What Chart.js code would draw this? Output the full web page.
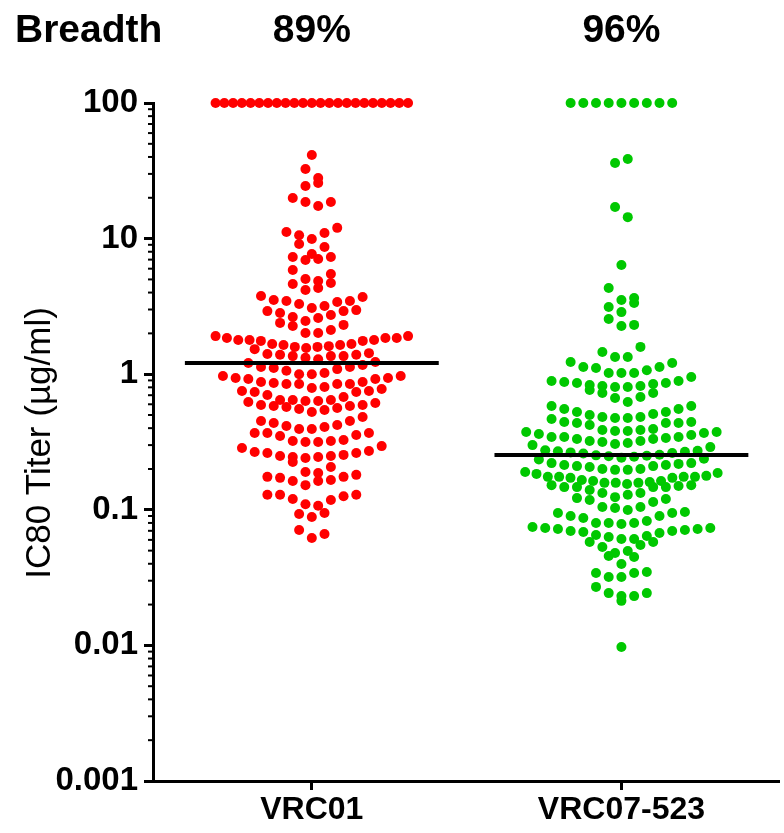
<!DOCTYPE html>
<html>
<head>
<meta charset="utf-8">
<script src="https://cdn.jsdelivr.net/npm/chart.js@4.4.1/dist/chart.umd.min.js"></script>
<style>
  html, body { margin: 0; padding: 0; background: #fff; }
  canvas { display: block; }
</style>
</head>
<body>
<canvas id="swarm" width="784" height="833"></canvas>
<script>
// Categories, breadth labels and axis ticks
const categories = ['VRC01', 'VRC07-523'];
const breadth = ['89%', '96%'];
const yTickValues = [0.001, 0.01, 0.1, 1, 10, 100];
const yTickLabels = ['0.001', '0.01', '0.1', '1', '10', '100'];
const yTitle = 'IC80 Titer (\u00b5g/ml)';

// IC80 titers (100 = not neutralized)
const vrc01Titers = [
  100, 100, 100, 100, 100, 100, 100, 100, 100, 100, 100, 100,
  100, 100, 100, 100, 100, 100, 100, 100, 100, 100, 100,
  41.4, 32.6, 28.0, 25.7, 24.4, 19.9, 18.6, 17.4, 18.6,
  12.0, 10.6, 11.0, 11.2, 9.93, 9.12, 8.67, 7.70, 7.32, 6.95, 7.07, 7.32,
  5.48, 5.87, 4.87, 4.71, 5.04, 4.63, 4.32, 4.18, 3.71, 3.77,
  3.53, 3.47, 3.29, 3.08, 2.92, 2.92, 2.97, 3.18, 3.41, 3.47,
  2.73, 2.60, 2.39, 2.27, 2.31, 2.47, 2.64, 2.83,
  2.01, 1.91, 1.85, 1.85, 1.76, 1.79, 1.67, 1.76, 1.67, 1.79, 1.79, 1.85, 1.91, 2.01, 2.12,
  1.61, 1.59, 1.53, 1.43, 1.39, 1.36, 1.36, 1.36, 1.39, 1.41, 1.56, 1.59, 1.64, 1.64,
  1.29, 1.23, 1.17, 1.13, 1.09, 1.06, 1.11, 1.13, 1.21, 1.32,
  1.00, 0.970, 0.937, 0.922, 0.876, 0.861, 0.847, 0.847, 0.847, 0.847, 0.876, 0.922, 0.937, 0.970, 1.00, 1.02,
  0.791, 0.752, 0.739, 0.703, 0.645, 0.645, 0.679, 0.739, 0.752, 0.778, 0.805,
  0.634, 0.624, 0.593, 0.583, 0.573, 0.554, 0.526, 0.545, 0.563, 0.583, 0.593, 0.613, 0.634, 0.645,
  0.452, 0.437, 0.415, 0.408, 0.422, 0.452, 0.484,
  0.394, 0.368, 0.356, 0.327, 0.322, 0.316, 0.316, 0.322, 0.350, 0.368, 0.368, 0.394,
  0.295, 0.271, 0.262, 0.254, 0.249, 0.225, 0.245, 0.241, 0.245, 0.249, 0.262, 0.267, 0.286,
  0.190, 0.207,
  0.181, 0.175, 0.166, 0.163, 0.152, 0.163, 0.172, 0.175, 0.187,
  0.129, 0.129, 0.120, 0.107, 0.110, 0.118, 0.126, 0.129,
  0.0931, 0.0885, 0.0947,
  0.0710, 0.0619, 0.0663
];

const vrc07Titers = [
  100, 100, 100, 100, 100, 100, 100, 100, 100,
  38.6, 36.1, 17.1, 14.4, 6.39, 4.32,
  3.53, 3.65, 3.13, 2.87, 3.35, 2.55, 2.27, 2.31,
  1.59, 1.46, 1.34, 1.34, 1.23, 1.21,
  1.13, 1.11, 1.02, 1.02, 0.954, 1.02, 1.07, 1.13,
  0.891, 0.876, 0.861, 0.832, 0.818, 0.727, 0.668, 0.805, 0.727, 0.765, 0.805, 0.818, 0.847, 0.861, 0.891, 0.679,
  0.583, 0.583, 0.624,
  0.554, 0.526, 0.509, 0.484, 0.475, 0.467, 0.475, 0.484, 0.500, 0.526, 0.554,
  0.444, 0.437, 0.422, 0.388, 0.381, 0.375, 0.368, 0.362, 0.375, 0.381, 0.388, 0.394, 0.437, 0.437, 0.444,
  0.344, 0.344, 0.333, 0.322, 0.316, 0.306, 0.290, 0.300, 0.311, 0.322, 0.333, 0.338, 0.344, 0.356,
  0.275, 0.270, 0.265, 0.260, 0.255, 0.250, 0.246, 0.242, 0.238, 0.235, 0.262, 0.252, 0.272, 0.268, 0.248,
  0.221, 0.218, 0.210, 0.210, 0.200, 0.197, 0.190, 0.184, 0.187, 0.197, 0.200, 0.207, 0.214, 0.214, 0.221,
  0.178, 0.175, 0.175, 0.172, 0.163, 0.158, 0.158, 0.155, 0.152, 0.147, 0.147,
  0.147, 0.147, 0.150, 0.152, 0.158, 0.160, 0.163, 0.166, 0.172, 0.175, 0.175,
  0.140, 0.133, 0.124, 0.120, 0.114, 0.118, 0.122, 0.129, 0.133,
  0.105, 0.0997, 0.0947, 0.0900, 0.0900, 0.0947, 0.0963, 0.103, 0.105,
  0.0870, 0.0799, 0.0799, 0.0747, 0.0710, 0.0698, 0.0675, 0.0641, 0.0609, 0.0734, 0.0722,
  0.0722, 0.0734, 0.0786, 0.0799, 0.0827, 0.0698, 0.0686, 0.0652, 0.0630, 0.0609,
  0.0579, 0.0579, 0.0550, 0.0532, 0.0480, 0.0497, 0.0456, 0.0449, 0.0398,
  0.0319, 0.0342, 0.0342, 0.0319, 0.0348, 0.0270,
  0.0243, 0.0231, 0.0231, 0.0243, 0.0213,
  0.00973
];

const FONT = '"Liberation Sans", Arial, Helvetica, sans-serif';
const DOT_GAP = 12.8;     // px between neighbours in a row
const ROW_H = 12.7;       // px height of a swarm row
const MAX_HALF = 97;      // px, widest a row may spread
const MEDIAN_HALF = 0.41; // half width of median bar, in category units

function median(arr) {
  const s = arr.slice().sort((a, b) => a - b);
  const m = Math.floor(s.length / 2);
  return s.length % 2 ? s[m] : (s[m - 1] + s[m]) / 2;
}

// Prism-like swarm: group values into rows by pixel height, spread each row centre-out
function swarm(values, yScale, unitPx, center) {
  const pts = values.map(v => ({ v, py: yScale.getPixelForValue(v) }))
    .sort((a, b) => a.py - b.py);
  const rows = [];
  let row = null;
  pts.forEach(p => {
    if (!row || p.py - row.top > ROW_H) {
      row = { top: p.py, items: [] };
      rows.push(row);
    }
    row.items.push(p);
  });
  const out = [];
  rows.forEach((r, ri) => {
    const items = r.items.slice().sort((a, b) => b.py - a.py);
    const n = items.length;
    const gap = n > 1 ? Math.min(DOT_GAP, 2 * MAX_HALF / (n - 1)) : 0;
    const slots = [];
    for (let k = 0; k < n; k++) slots.push((k - (n - 1) / 2) * gap);
    const side = ri % 2 ? 1 : -1;
    slots.sort((a, b) => Math.abs(a) - Math.abs(b) || side * (a - b));
    items.forEach((p, i) => out.push({ x: center + slots[i] / unitPx, y: p.v }));
  });
  return out;
}

const decor = {
  id: 'decor',
  afterDraw(chart) {
    const { ctx, scales: { x, y } } = chart;
    ctx.save();
    // minor log ticks
    ctx.strokeStyle = '#000';
    ctx.lineWidth = 2;
    for (let e = -3; e < 2; e++) {
      for (let m = 2; m <= 9; m++) {
        const py = y.getPixelForValue(m * Math.pow(10, e));
        ctx.beginPath();
        ctx.moveTo(y.right - 5, py);
        ctx.lineTo(y.right, py);
        ctx.stroke();
      }
    }
    // header
    ctx.fillStyle = '#000';
    ctx.textBaseline = 'middle';
    ctx.font = 'bold 39px ' + FONT;
    ctx.textAlign = 'left';
    ctx.fillText('Breadth', 15, 31);
    ctx.textAlign = 'center';
    breadth.forEach((b, i) => ctx.fillText(b, x.getPixelForValue(i + 1), 31));
    // y title
    ctx.translate(40, 443);
    ctx.rotate(-Math.PI / 2);
    ctx.font = '35px ' + FONT;
    ctx.fillText(yTitle, 0, 0);
    ctx.restore();
  }
};

const tickFont = { family: FONT, size: 33, weight: 'bold' };

const chart = new Chart(document.getElementById('swarm'), {
  type: 'scatter',
  data: {
    datasets: [
      { label: 'median VRC01', type: 'line', data: [], borderColor: '#000', borderWidth: 4,
        pointRadius: 0, showLine: true, order: 1 },
      { label: 'median VRC07-523', type: 'line', data: [], borderColor: '#000', borderWidth: 4,
        pointRadius: 0, showLine: true, order: 1 },
      { label: categories[0], data: [], backgroundColor: '#ff0000', borderWidth: 0,
        pointRadius: 5, clip: false, order: 2 },
      { label: categories[1], data: [], backgroundColor: '#00c800', borderWidth: 0,
        pointRadius: 5, clip: false, order: 2 }
    ]
  },
  options: {
    responsive: false,
    animation: false,
    layout: { padding: { top: 103, right: 0, bottom: 0, left: 0 } },
    plugins: { legend: { display: false }, tooltip: { enabled: false } },
    scales: {
      x: {
        type: 'linear',
        min: 0.487,
        max: 2.509,
        afterFit: s => { s.height = 52; },
        afterBuildTicks: s => { s.ticks = categories.map((c, i) => ({ value: i + 1 })); },
        ticks: {
          callback: (v, i) => categories[i],
          color: '#000', font: { family: FONT, size: 32, weight: 'bold' },
          padding: 1, autoSkip: false, maxRotation: 0
        },
        grid: { drawOnChartArea: false, drawTicks: true, tickLength: 9, tickWidth: 3, tickColor: '#000' },
        border: { display: true, color: '#000', width: 3 }
      },
      y: {
        type: 'logarithmic',
        min: 0.001,
        max: 100,
        afterFit: s => { s.width = 153; },
        afterBuildTicks: s => { s.ticks = yTickValues.map(v => ({ value: v })); },
        ticks: {
          callback: (v, i) => yTickLabels[i],
          color: '#000', font: tickFont, padding: 6
        },
        grid: { drawOnChartArea: false, drawTicks: true, tickLength: 9, tickWidth: 3, tickColor: '#000' },
        border: { display: true, color: '#000', width: 3 }
      }
    }
  },
  plugins: [decor]
});

// lay the swarms out through the chart's own scales
const xs = chart.scales.x;
const ys = chart.scales.y;
const unitPx = xs.getPixelForValue(2) - xs.getPixelForValue(1);
const m1 = median(vrc01Titers);
const m2 = median(vrc07Titers);
chart.data.datasets[0].data = [{ x: 1 - MEDIAN_HALF, y: m1 }, { x: 1 + MEDIAN_HALF, y: m1 }];
chart.data.datasets[1].data = [{ x: 2 - MEDIAN_HALF, y: m2 }, { x: 2 + MEDIAN_HALF, y: m2 }];
chart.data.datasets[2].data = swarm(vrc01Titers, ys, unitPx, 1);
chart.data.datasets[3].data = swarm(vrc07Titers, ys, unitPx, 2);
chart.update('none');
</script>
</body>
</html>
